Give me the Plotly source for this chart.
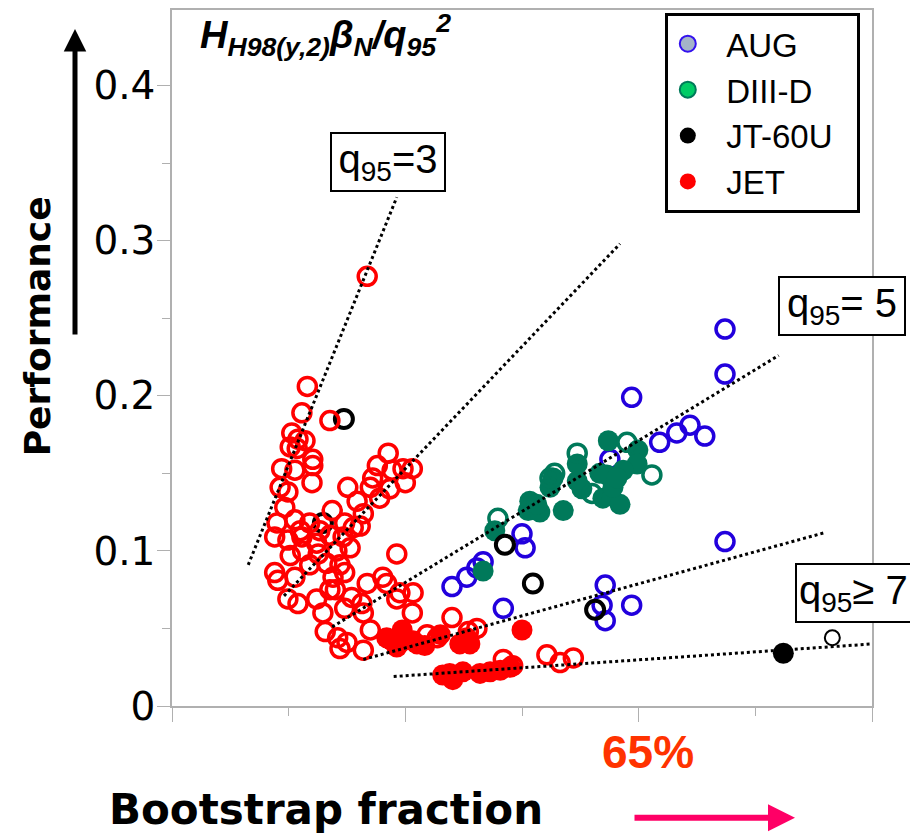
import plotly.graph_objects as go

# ---------------- data (bootstrap fraction in %, performance) ----------------
jet_open_x = [25.1, 17.4, 16.7, 20.3, 15.4, 16.2, 17.1, 15.2, 16.1, 18.1,
              18.1, 14.1, 15.8, 18.0, 13.9, 14.9, 14.5, 13.5, 15.8, 17.7,
              13.2, 14.9, 16.7, 15.2, 16.8, 18.6, 13.2, 13.6, 15.8, 14.9,
              16.2, 18.6, 19.4, 20.3, 20.7, 19.9, 21.2, 22.0, 22.9, 23.3,
              20.6, 22.6, 23.8, 24.6, 25.5, 25.8, 26.7, 26.4, 27.8, 28.0,
              29.7, 30.9, 30.0, 19.7, 21.3, 21.6, 23.1, 22.2, 24.4, 25.1,
              27.1, 27.6, 28.9, 29.3, 31.0, 30.9, 25.5, 24.6, 22.5, 32.8,
              36.0, 34.1, 24.6, 28.9, 39.2, 38.1, 48.2, 49.9, 51.6, 42.6,
              43.8, 19.0, 17.7, 21.6, 20.3, 18.8, 22.2, 21.0, 28.3, 24.2,
              16.5, 22.2]
jet_open_y = [0.277, 0.206, 0.189, 0.184, 0.176, 0.172, 0.171, 0.167, 0.166, 0.159,
              0.155, 0.153, 0.152, 0.144, 0.141, 0.138, 0.128, 0.118, 0.120, 0.118,
              0.109, 0.107, 0.109, 0.097, 0.100, 0.105, 0.086, 0.081, 0.083, 0.069,
              0.066, 0.069, 0.060, 0.075, 0.083, 0.092, 0.100, 0.109, 0.102, 0.115,
              0.126, 0.141, 0.132, 0.124, 0.141, 0.147, 0.134, 0.155, 0.163, 0.140,
              0.153, 0.153, 0.144, 0.048, 0.044, 0.037, 0.070, 0.063, 0.066, 0.079,
              0.083, 0.079, 0.098, 0.073, 0.073, 0.060, 0.049, 0.036, 0.041, 0.046,
              0.057, 0.044, 0.060, 0.069, 0.050, 0.048, 0.033, 0.028, 0.031, 0.030,
              0.026, 0.113, 0.091, 0.091, 0.110, 0.098, 0.086, 0.075, 0.152, 0.116,
              0.113, 0.118]

jet_fill_x = [27.6, 28.9, 31.0, 29.6, 29.7, 31.5, 34.5, 38.3, 37.9, 45.0,
              35.7, 37.4, 39.6, 40.9, 42.2, 43.5, 34.8, 36.1, 37.0, 32.5, 28.3]
jet_fill_y = [0.044, 0.038, 0.042, 0.049, 0.042, 0.040, 0.046, 0.040, 0.044, 0.049,
              0.021, 0.022, 0.021, 0.022, 0.023, 0.025, 0.020, 0.017, 0.040, 0.039, 0.042]

aug_x = [71.1, 71.1, 59.1, 62.7, 64.9, 66.6, 68.5, 56.3, 45.0, 45.4,
         40.0, 39.2, 37.9, 36.0, 42.6, 55.7, 55.3, 55.7, 59.1, 71.1]
aug_y = [0.243, 0.214, 0.199, 0.170, 0.176, 0.181, 0.174, 0.159, 0.111, 0.102,
         0.093, 0.089, 0.083, 0.077, 0.063, 0.078, 0.065, 0.055, 0.065, 0.106]

d3d_fill_x = [56.1, 59.9, 59.8, 58.0, 55.9, 52.1, 52.1, 49.0, 48.6, 46.0, 45.8,
              47.3, 50.3, 55.4, 57.6, 56.7, 41.5, 46.9, 40.0, 52.7, 55.0, 57.2]
d3d_fill_y = [0.171, 0.165, 0.156, 0.152, 0.149, 0.156, 0.145, 0.147, 0.141, 0.132, 0.126,
              0.125, 0.126, 0.134, 0.130, 0.141, 0.113, 0.130, 0.087, 0.140, 0.150, 0.147]
d3d_open_x = [52.1, 58.5, 61.7, 54.0, 41.9, 49.2, 48.6]
d3d_open_y = [0.163, 0.170, 0.149, 0.137, 0.121, 0.150, 0.147]

jt_open_x = [22.1, 19.4, 42.8, 46.4, 54.4]
jt_open_y = [0.185, 0.118, 0.104, 0.079, 0.062]
jt_small_x = [84.9]
jt_small_y = [0.044]
jt_fill_x = [78.6]
jt_fill_y = [0.034]

# q95 guide lines: start and end points
line_x0 = [9.8, 14.4, 20.6, 24.6, 28.5]
line_y0 = [0.091, 0.071, 0.051, 0.030, 0.019]
line_x1 = [28.9, 57.6, 78.0, 84.1, 90.0]
line_y1 = [0.328, 0.298, 0.226, 0.112, 0.040]

legend_names = ["AUG", "DIII-D", "JT-60U", "JET"]
y_ticks = [0, 0.1, 0.2, 0.3, 0.4]

RED = "#ff0000"
BLUE = "#2200dd"
GREEN = "#00795a"
BLACK = "#000000"
SANS = "DejaVu Sans"
ARIAL = "Liberation Sans, Arial"
NB = "\u00a0"

fig = go.Figure()

def open_trace(x, y, color, size=18, lw=3.5):
    return go.Scatter(x=x, y=y, mode="markers", showlegend=False, hoverinfo="x+y",
                      marker=dict(symbol="circle-open", size=size, color=color,
                                  line=dict(color=color, width=lw)))

def fill_trace(x, y, color, size=21):
    return go.Scatter(x=x, y=y, mode="markers", showlegend=False, hoverinfo="x+y",
                      marker=dict(symbol="circle", size=size, color=color,
                                  line=dict(width=0)))

fig.add_trace(open_trace(aug_x, aug_y, BLUE))
fig.add_trace(fill_trace(d3d_fill_x, d3d_fill_y, GREEN))
fig.add_trace(open_trace(d3d_open_x, d3d_open_y, GREEN))
fig.add_trace(open_trace(jt_open_x, jt_open_y, BLACK, lw=4))
fig.add_trace(open_trace(jet_open_x, jet_open_y, RED))
fig.add_trace(fill_trace(jet_fill_x, jet_fill_y, RED))
fig.add_trace(fill_trace(jt_fill_x, jt_fill_y, BLACK))
fig.add_trace(open_trace(jt_small_x, jt_small_y, BLACK, size=15, lw=2))

lx, ly = [], []
for a, b, c, d in zip(line_x0, line_y0, line_x1, line_y1):
    lx += [a, c, None]
    ly += [b, d, None]
fig.add_trace(go.Scatter(x=lx, y=ly, mode="lines", showlegend=False, hoverinfo="skip",
                         line=dict(color="black", width=3, dash="dot")))

# legend-only entries
leg_styles = [
    dict(color="#a4b4c8", line=dict(color="#3311ee", width=2)),
    dict(color="#00cc66", line=dict(color="#007a5a", width=2)),
    dict(color="#000000", line=dict(color="#000000", width=0)),
    dict(color="#ff0000", line=dict(color="#ff0000", width=0)),
]
for name, st in zip(legend_names, leg_styles):
    fig.add_trace(go.Scatter(x=[None], y=[None], mode="markers",
                             name=NB * 2 + name + NB * 2,
                             marker=dict(symbol="circle", size=16, **st)))

axis_line = "#b0b0b0"
fig.update_xaxes(range=[0, 90], dtick=30, tick0=0, ticks="outside", ticklen=14,
                 tickcolor=axis_line, tickwidth=1, showticklabels=False,
                 showline=True, linecolor=axis_line, linewidth=1.5, mirror=True,
                 showgrid=False, zeroline=False,
                 minor=dict(dtick=15, ticks="outside", ticklen=8, tickcolor=axis_line,
                            showgrid=False))
fig.update_yaxes(range=[0, 0.4487], tickvals=y_ticks, ticktext=[f"{v:g}" for v in y_ticks],
                 ticks="outside", ticklen=13, tickcolor=axis_line, tickwidth=1,
                 ticklabelstandoff=-6,
                 tickfont=dict(family=SANS, size=39, color="black"),
                 showline=True, linecolor=axis_line, linewidth=1.5, mirror=True,
                 showgrid=False, zeroline=False,
                 minor=dict(dtick=0.05, tick0=0, ticks="outside", ticklen=8,
                            tickcolor=axis_line, showgrid=False))

box = dict(showarrow=False, xref="x", yref="y", bordercolor="black", borderwidth=2,
           borderpad=2, bgcolor="white", height=52,
           font=dict(family=ARIAL, size=40, color="black"))

annotations = [
    dict(text="<b><i>H<sub>H98(y,2)</sub>β<sub>N</sub>/q<sub>95</sub><sup>2</sup></i></b>",
         xref="paper", yref="paper", x=0.037, y=1.006, xanchor="left", yanchor="top",
         showarrow=False, font=dict(family=ARIAL, size=38, color="black")),
    dict(text="q<sub>95</sub>=3", x=27.8, y=0.351, width=108, **box),
    dict(text="q<sub>95</sub>= 5", x=86.1, y=0.258, width=120, **box),
    dict(text="q<sub>95</sub>≥ 7", x=80.1, y=0.0726, xanchor="left", align="left",
         width=115, **box),
    dict(text="<b>Performance</b>", xref="paper", yref="paper", x=-0.191, y=0.546,
         xanchor="center", yanchor="middle", textangle=-90, showarrow=False,
         font=dict(family=SANS, size=36, color="black")),
    dict(text="<b>Bootstrap fraction</b>", xref="paper", yref="paper", x=0.22, y=-0.149,
         xanchor="center", yanchor="middle", showarrow=False,
         font=dict(family=SANS, size=42, color="black")),
    dict(text="<b>65%</b>", xref="paper", yref="paper", x=0.68, y=-0.066,
         xanchor="center", yanchor="middle", showarrow=False,
         font=dict(family=ARIAL, size=46, color="#ff3300")),
    # vertical "performance" arrow
    dict(text="", xref="paper", yref="paper", x=(75 - 172) / 700, y=(706 - 27) / 698,
         ax=0, ay=307, showarrow=True, arrowhead=2, arrowsize=0.9, arrowwidth=5,
         arrowcolor="black"),
    # horizontal "bootstrap" arrow
    dict(text="", xref="paper", yref="paper", x=(795 - 172) / 700, y=(706 - 818) / 698,
         ax=-162, ay=0, showarrow=True, arrowhead=2, arrowsize=0.9, arrowwidth=6,
         arrowcolor="#ff0066"),
]

fig.update_layout(
    width=910, height=832,
    margin=dict(l=164, r=46, t=0, b=134),
    plot_bgcolor="white", paper_bgcolor="white",
    showlegend=True,
    legend=dict(x=0.704, y=0.996, xanchor="left", yanchor="top",
                bgcolor="white", bordercolor="black", borderwidth=3,
                font=dict(family=ARIAL, size=33, color="black"),
                itemsizing="trace"),
    annotations=annotations,
    font=dict(family=SANS),
)

fig.write_html("out.html")
